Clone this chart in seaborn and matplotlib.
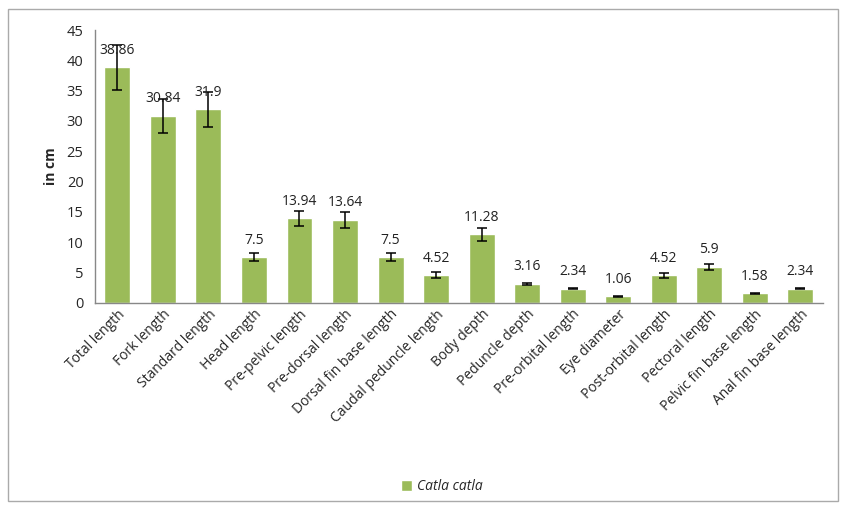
import numpy as np
import matplotlib.pyplot as plt
import pandas as pd
import seaborn as sns
from matplotlib.patches import Rectangle

# values
traits = ['Total length', 'Fork length', 'Standard length', 'Head length',
          'Pre-pelvic length', 'Pre-dorsal length', 'Dorsal fin base length',
          'Caudal peduncle length', 'Body depth', 'Peduncle depth',
          'Pre-orbital length', 'Eye diameter', 'Post-orbital length',
          'Pectoral length', 'Pelvic fin base length', 'Anal fin base length']
means = [38.86, 30.84, 31.9, 7.5, 13.94, 13.64, 7.5, 4.52, 11.28, 3.16,
         2.34, 1.06, 4.52, 5.9, 1.58, 2.34]
errors = [3.75, 2.8, 2.9, 0.65, 1.25, 1.3, 0.65, 0.5, 1.05, 0.15,
          0.1, 0.05, 0.45, 0.55, 0.1, 0.1]
species = 'Catla catla'

df = pd.DataFrame({'trait': traits, 'mean': means, 'err': errors})

sns.set_style('white')
plt.rcParams['font.family'] = ['Open Sans', 'DejaVu Sans']

fig = plt.figure(figsize=(8.45, 5.09), dpi=100)
ax = fig.add_axes([0.112, 0.405, 0.862, 0.536])

sns.barplot(data=df, x='trait', y='mean', color='#9BBB59', width=0.57,
            saturation=1, ax=ax, label=species)
ax.errorbar(np.arange(len(traits)), df['mean'], yerr=df['err'], fmt='none',
            ecolor='black', elinewidth=1.1, capsize=3.5, capthick=1.1)

for i, v in enumerate(means):
    ax.annotate(f'{v:g}', (i, v), xytext=(0, 7), textcoords='offset points',
                ha='center', va='bottom', fontsize=10, color='#222222')

ax.set_ylim(0, 45)
ax.set_yticks(range(0, 50, 5))
ax.set_xlim(-0.5, len(traits) - 0.5)
ax.set_xlabel('')
ax.set_ylabel('in cm', fontsize=10, fontweight='bold', labelpad=6)
ax.tick_params(axis='y', labelsize=10.5, length=0, pad=8)
ax.tick_params(axis='x', labelsize=10, length=0, pad=3)
plt.setp(ax.get_xticklabels(), rotation=45, ha='right', rotation_mode='anchor')

for s in ['top', 'right']:
    ax.spines[s].set_visible(False)
for s in ['left', 'bottom']:
    ax.spines[s].set_color('#888888')
    ax.spines[s].set_linewidth(1)

leg = ax.legend(loc='center', bbox_to_anchor=(442 / 845, 1 - 487 / 509),
                bbox_transform=fig.transFigure, frameon=False,
                handlelength=0.8, handleheight=0.8, handletextpad=0.4,
                prop={'style': 'italic', 'size': 10})

fig.patches.append(Rectangle((8 / 845, 8 / 509), 830 / 845, 492 / 509,
                             transform=fig.transFigure, fill=False,
                             edgecolor='#AAAAAA', linewidth=1))

plt.savefig('out.png', dpi=100)
